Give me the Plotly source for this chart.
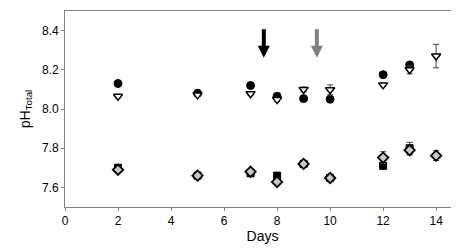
import plotly.graph_objects as go

days_circle = [2, 5, 7, 8, 9, 10, 12, 13]
ph_circle = [8.13, 8.08, 8.12, 8.065, 8.053, 8.05, 8.175, 8.225]
err_circle = [0.008, 0.008, 0.012, 0.008, 0.008, 0.008, 0.008, 0.01]

days_tri = [2, 5, 7, 8, 9, 10, 12, 13, 14]
ph_tri = [8.065, 8.072, 8.078, 8.048, 8.10, 8.098, 8.123, 8.20, 8.27]
err_tri = [0.008, 0.008, 0.01, 0.01, 0.012, 0.025, 0.008, 0.02, 0.06]

days_sq = [2, 5, 7, 8, 9, 10, 12, 13]
ph_sq = [7.70, 7.66, 7.672, 7.66, 7.72, 7.648, 7.71, 7.80]
err_sq = [0.008, 0.006, 0.008, 0.01, 0.006, 0.01, 0.006, 0.03]

days_dia = [2, 5, 7, 8, 9, 10, 12, 13, 14]
ph_dia = [7.69, 7.66, 7.68, 7.628, 7.72, 7.648, 7.752, 7.79, 7.762]
err_dia = [0.01, 0.006, 0.008, 0.01, 0.006, 0.015, 0.03, 0.025, 0.025]

arrow_days = [7.5, 9.5]
arrow_colors = ["black", "#808080"]
arrow_top = 8.415
arrow_tip = 8.262

x_ticks = [0, 2, 4, 6, 8, 10, 12, 14]
y_ticks = [7.6, 7.8, 8.0, 8.2, 8.4]

fig = go.Figure()

def add(days, vals, errs, symbol, size, fill, line_col, lw):
    fig.add_trace(go.Scatter(
        x=days, y=vals, mode="markers",
        marker=dict(symbol=symbol, size=size, color=fill,
                    line=dict(color=line_col, width=lw)),
        error_y=dict(type="data", array=errs, visible=True,
                     color="#404040", thickness=1, width=3),
        showlegend=False))

add(days_sq, ph_sq, err_sq, "square", 7, "black", "black", 1)
add(days_dia, ph_dia, err_dia, "diamond", 8, "#c8c8c8", "black", 1.8)
add(days_circle, ph_circle, err_circle, "circle", 8, "black", "black", 1)
add(days_tri, ph_tri, err_tri, "triangle-down", 8, "white", "black", 1.5)

for d, c in zip(arrow_days, arrow_colors):
    fig.add_annotation(x=d, y=arrow_tip, ax=d, ay=arrow_top,
                       xref="x", yref="y", axref="x", ayref="y",
                       showarrow=True, arrowhead=2, arrowsize=0.6,
                       arrowwidth=4, arrowcolor=c, text="")

fig.update_layout(
    width=459, height=249,
    margin=dict(l=57, r=7, t=3, b=50),
    plot_bgcolor="white", paper_bgcolor="white",
    font=dict(family="Liberation Sans, Arial", size=12, color="black"),
    xaxis=dict(range=[0, 14.9], tickvals=x_ticks, ticks="outside", ticklen=3,
               tickcolor="#808080", showline=True, linecolor="#808080",
               linewidth=1, mirror=True, showgrid=False, zeroline=False,
               title=dict(text="Days", standoff=2)),
    yaxis=dict(range=[7.5, 8.5], tickvals=y_ticks, tickformat=".1f",
               ticks="outside", ticklen=3, tickcolor="#808080",
               showline=True, linecolor="#808080", linewidth=1, mirror=True,
               showgrid=False, zeroline=False,
               title=dict(text="pH<sub>Total</sub>", standoff=8,
                          font=dict(size=14))),
)

fig.write_html("out.html")
